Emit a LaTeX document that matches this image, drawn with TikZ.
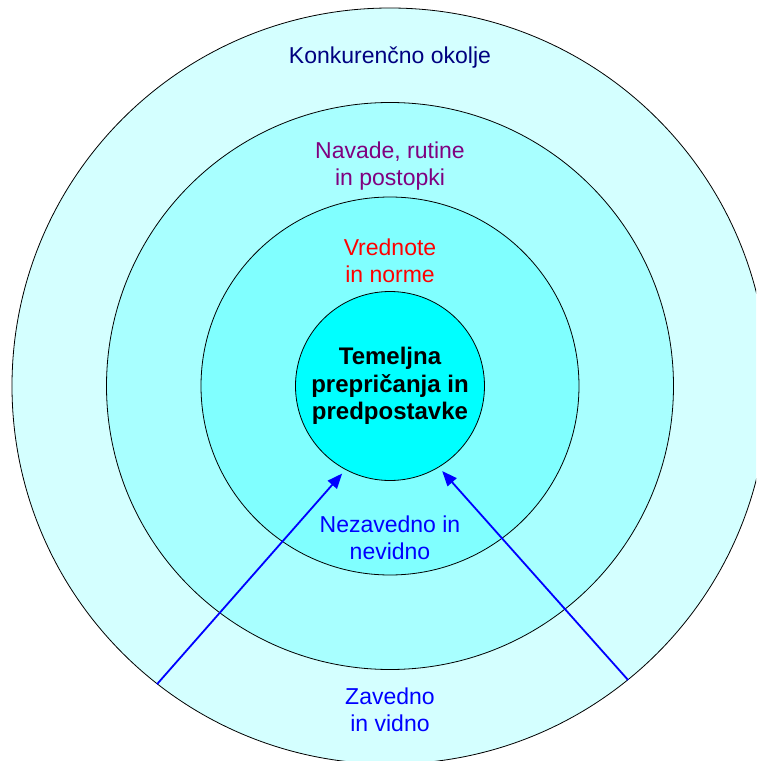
\documentclass[tikz,border=0pt]{standalone}
\usepackage{fontspec}
\setmainfont{Liberation Sans}
\usepackage{tikz}
\usetikzlibrary{arrows.meta}
\definecolor{ringA}{HTML}{D4FFFF}
\definecolor{ringB}{HTML}{A8FFFF}
\definecolor{ringC}{HTML}{80FFFF}
\definecolor{ringD}{HTML}{00FFFF}
\definecolor{navytext}{HTML}{000080}
\definecolor{purpletext}{HTML}{800080}
\begin{document}
\begin{tikzpicture}[x=1pt,y=1pt]
          \tikzstyle{zone} = [circle, draw, line width=0.8pt, inner sep=0pt]
          \tikzstyle{txt} = [align=center, font=\fontsize{23}{27.5}\selectfont]
          \tikzstyle{arrow} = [draw=blue, line width=1.8pt, -{Triangle[length=15pt,width=12pt]}, shorten >=5pt]
        \useasboundingbox (-390,-375) rectangle (366,386);
        \clip (-390,-375) rectangle (366,386);
        \node[zone, fill=ringA, minimum size=756pt] (env) at (0,0) {};
        \node[zone, fill=ringB, minimum size=567pt] (habits) at (0,0) {};
        \node[zone, fill=ringC, minimum size=378pt] (values) at (0,0) {};
        \node[zone, fill=ringD, minimum size=189pt, align=center, font=\fontsize{24}{27.5}\selectfont\bfseries] (core) at (0,0) {Temeljna\\prepričanja in\\predpostavke};
        \node[txt, text=navytext] (t1) at (0,328) {Konkurenčno okolje};
        \node[txt, text=purpletext] (t2) at (0,220) {Navade, rutine\\in postopki};
        \node[txt, text=red] (t3) at (0,125) {Vrednote\\in norme};
        \node[txt, text=blue] (t4) at (0,-152) {Nezavedno in\\nevidno};
        \node[txt, text=blue] (t5) at (0,-324) {Zavedno\\in vidno};
        \begin{scope}
          \draw[arrow] (env.-128) -- (core.-118);
          \draw[arrow] (env.-51) -- (core.-59);
        \end{scope}
      \end{tikzpicture}
\end{document}
